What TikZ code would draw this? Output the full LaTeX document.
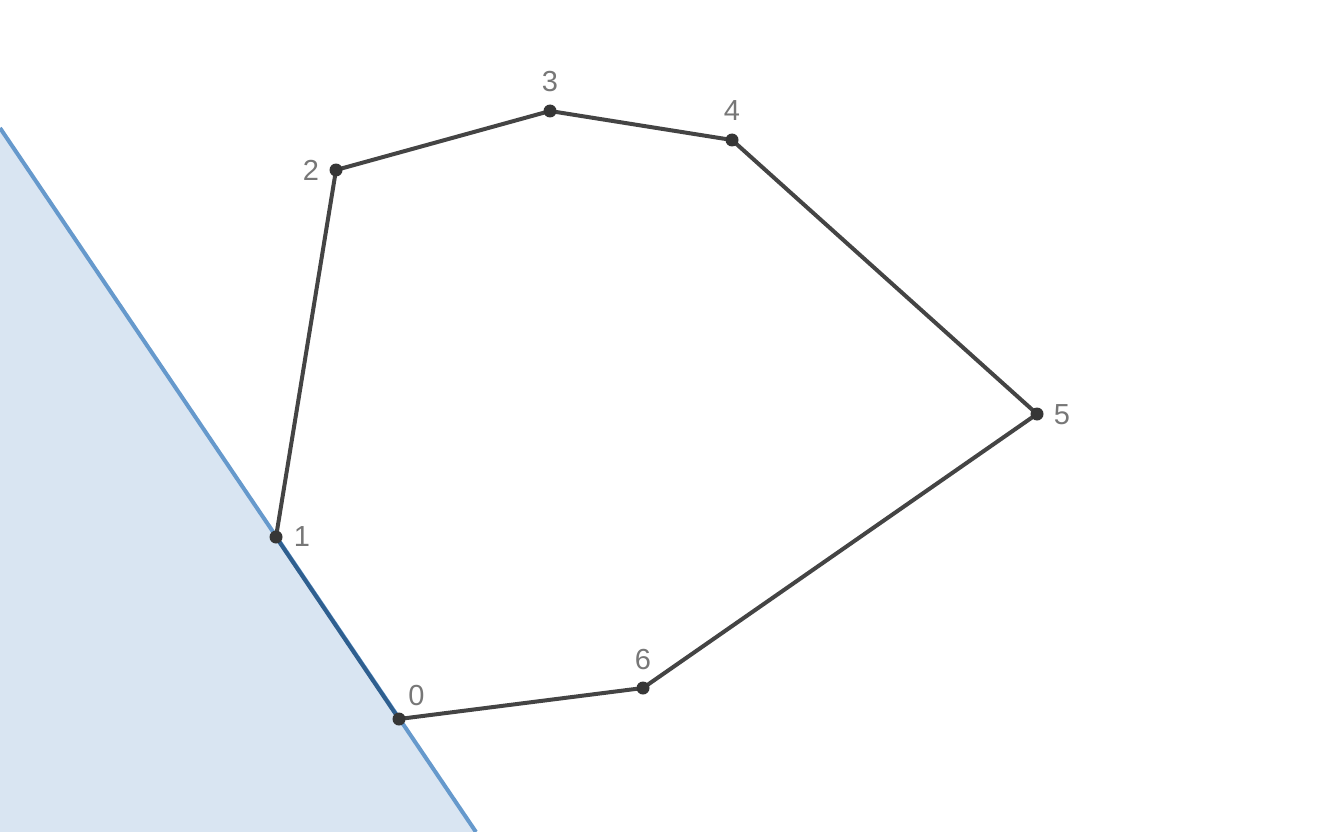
\documentclass[tikz,border=0pt]{standalone}
\usepackage{fontspec}
\setmainfont{Liberation Sans}
\definecolor{edgegray}{HTML}{444444}
\definecolor{halfblue}{HTML}{6699CC}
\definecolor{halffill}{HTML}{D9E5F2}
\definecolor{darkblue}{HTML}{2F5F8F}
\definecolor{labelgray}{HTML}{777777}
\begin{document}
\begin{tikzpicture}[x=1pt,y=-1pt,
  edge/.style={draw=edgegray,line width=4pt},
  dot/.style={circle,fill=edgegray!80!black,inner sep=0pt,minimum size=13pt},
  lbl/.style={text=labelgray,font=\fontsize{29}{34}\selectfont,inner sep=0pt}]
\useasboundingbox (0,0) rectangle (1322,832);
\coordinate (lt) at (0,128);
\coordinate (lb) at (476,832);
\fill[halffill] (lt) -- (lb) -- (0,832) -- cycle;
\draw[halfblue,line width=4pt] (lt) -- (lb);
\coordinate (p0) at (399,719);
\coordinate (p1) at (276,537);
\coordinate (p2) at (336,170);
\coordinate (p3) at (550,111);
\coordinate (p4) at (732,140);
\coordinate (p5) at (1037,414);
\coordinate (p6) at (643,688);
\draw[edge,line join=round] (p1) -- (p2) -- (p3) -- (p4) -- (p5) -- (p6) -- (p0);
\draw[darkblue,line width=4pt] (p0) -- (p1);
\foreach \i in {0,...,6} \node[dot] (d\i) at (p\i) {};
\node[lbl] (l0) at (416.5,695.5) {0};
\node[lbl] (l1) at (302,537) {1};
\node[lbl] (l2) at (311,170) {2};
\node[lbl] (l3) at (550,82) {3};
\node[lbl] (l4) at (732,111) {4};
\node[lbl] (l5) at (1062,415) {5};
\node[lbl] (l6) at (643,660) {6};
\end{tikzpicture}
\end{document}
